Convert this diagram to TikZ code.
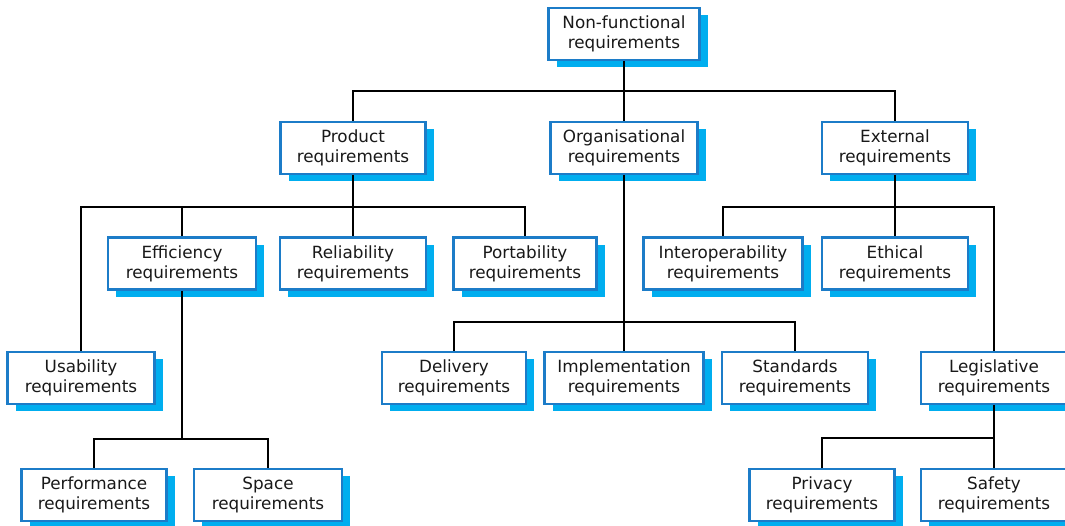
\documentclass[tikz,border=0pt]{standalone}
\usepackage{fontspec}
\setmainfont{DejaVu Sans}
\usetikzlibrary{shadows}
\definecolor{boxline}{HTML}{1C7CC8}
\definecolor{boxshade}{HTML}{00AEEF}
\begin{document}
\begin{tikzpicture}[x=1pt,y=1pt,
  req/.style={draw=boxline, line width=2.6pt, fill=white, minimum height=52pt,
    inner sep=0pt, align=center, text=black!90,
    font=\fontsize{16.8}{20}\selectfont,
    drop shadow={shadow xshift=8pt, shadow yshift=-7pt, fill=boxshade, opacity=1}},
  link/.style={draw=black, line width=2.2pt}]
\useasboundingbox (0,0) rectangle (1065,-525);

% top level
\node[req, minimum width=151pt] (nf) at (624,-34) {Non-functional\\requirements};

% second level
\node[req, minimum width=145pt] (prod) at (353,-148) {Product\\requirements};
\node[req, minimum width=147pt] (org) at (624,-148) {Organisational\\requirements};
\node[req, minimum width=146pt] (ext) at (895,-148) {External\\requirements};

% third level
\node[req, minimum width=148pt] (eff) at (182,-263.5) {Efficiency\\requirements};
\node[req, minimum width=146pt] (rel) at (353,-263.5) {Reliability\\requirements};
\node[req, minimum width=143pt] (port) at (525,-263.5) {Portability\\requirements};
\node[req, minimum width=159pt] (inter) at (723,-263.5) {Interoperability\\requirements};
\node[req, minimum width=146pt] (eth) at (895,-263.5) {Ethical\\requirements};

\node[req, minimum width=147pt] (usab) at (81,-378) {Usability\\requirements};
\node[req, minimum width=144pt] (deliv) at (454,-378) {Delivery\\requirements};
\node[req, minimum width=159pt] (impl) at (624,-378) {Implementation\\requirements};
\node[req, minimum width=146pt] (stand) at (795,-378) {Standards\\requirements};
\node[req, minimum width=146pt] (legis) at (994,-378) {Legislative\\requirements};

% bottom level
\node[req, minimum width=145pt] (perf) at (94,-495) {Performance\\requirements};
\node[req, minimum width=148pt] (space) at (268,-495) {Space\\requirements};
\node[req, minimum width=145pt] (priv) at (822,-495) {Privacy\\requirements};
\node[req, minimum width=146pt] (safe) at (994,-495) {Safety\\requirements};

% connectors: parent down to a bus line, bus across to children
\draw[link] (nf.south) -- ++(0,-30) coordinate (nfbus);
\draw[link] (prod.north) |- (nfbus) -| (ext.north);
\draw[link] (nfbus) -- (org.north);

\draw[link] (prod.south) -- ++(0,-32) coordinate (prodbus);
\draw[link] (usab.north) |- (prodbus) -| (port.north);
\draw[link] (eff.north) |- (prodbus);
\draw[link] (prodbus) -- (rel.north);

\draw[link] (org.south) -- ++(0,-147) coordinate (orgbus);
\draw[link] (deliv.north) |- (orgbus) -| (stand.north);
\draw[link] (orgbus) -- (impl.north);

\draw[link] (ext.south) -- ++(0,-32) coordinate (extbus);
\draw[link] (inter.north) |- (extbus) -| (legis.north);
\draw[link] (extbus) -- (eth.north);

\draw[link] (eff.south) -- ++(0,-148) coordinate (effbus);
\draw[link] (perf.north) |- (effbus) -| (space.north);

\draw[link] (legis.south) -- ++(0,-33) coordinate (legbus);
\draw[link] (priv.north) |- (legbus) -- (safe.north);
\end{tikzpicture}
\end{document}
